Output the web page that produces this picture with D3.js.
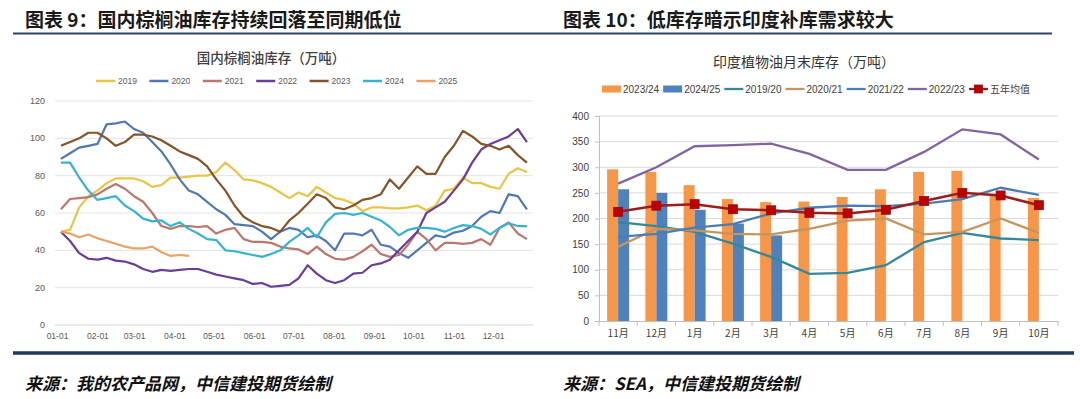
<!DOCTYPE html>
<html>
<head>
<meta charset="utf-8">
<script src="https://cdn.jsdelivr.net/npm/d3@7"></script>
<style>
  body { margin: 0; background: #fff; }
  svg { display: block; font-family: "Liberation Sans", Arial, sans-serif; }
</style>
</head>
<body>
<div id="section"></div>
<script>
// ---- LEFT CHART DATA (weekly, 万吨) ----
const years = ["2019", "2020", "2021", "2022", "2023", "2024", "2025"];
const monthTicks = ["01-01","02-01","03-01","04-01","05-01","06-01","07-01","08-01","09-01","10-01","11-01","12-01"];
const stock2019 = [50,51,63,69,72,76,78.5,78.5,78.5,77,74,75,79,79,79.5,80,80,82,87,83,78,77.5,76,74,71,68,71,69,74,71,68,67,65,61,63,63,62.5,62.5,63,64,61.5,64,72,73,79,76,76,74,73,81,84,82];
const stock2020 = [89,92,95,96,97,107.5,108,109,105,103,98,93,86,78,72,70,66,62,59,54,53.5,53,50,46,50,52,51,47,48,45,40,49,49,48,51,43,42,38.5,36,40,44,48,47,49.5,50.5,53,58,61,60,70,69,62];
const stock2021 = [62,67.5,68,68.5,70,73,75.5,73,69,66,60,53,51.5,53,53,52.5,53,49,51,52,46,44.5,44.5,44,42,41,40.5,38,42,38,35.5,35,36.5,39.5,43,38,36.5,37.5,43,50,46,40,44,44,43.5,44,46,43,52,55,49,46];
const stock2022 = [50,45,38.5,35.5,35,36,34.5,34,32.5,30,28.5,29.5,29,29.5,30,30,28.5,27,26,25,24,22,22.5,20.5,21,21.5,25,32,27.5,24,22.5,24,27.5,28,32,33,35,40,45,50,60,63,66,72,78,87,94,97,99,101,105,98];
const stock2023 = [96,98,100,103,103,100,96,98,102,102,101,99,96,93,91,89,85,78,72,64,58,55,53,52,50,56,60,65,70,68,63,62,64,67,68,70,78,73,79,85,81,81,90,96,104,101,97,96,94,96,91,87];
const stock2024 = [87,87,79,72,67,68,69,64,61,57,55.5,56,53,55,51.5,49,46,45.5,40,39.5,38.5,37.5,36.5,38,40,44.5,48,52,47,55,59.5,60,59,60,58,56,52.5,48,51,52,52,51.5,50,52,53.5,53,51.5,48.5,52,54.5,53,53];
const stock2025 = [50,49,47,48.5,46.5,45,43.5,42,41,41,42,39,37,37.5,37];
const leftSeries = [stock2019, stock2020, stock2021, stock2022, stock2023, stock2024, stock2025];
const leftColors = ["#E9C544", "#4F78B4", "#BD766D", "#6A3D98", "#855428", "#35B4D2", "#E9A266"];

// ---- RIGHT CHART DATA (印度植物油月末库存, 万吨) ----
const months = ["11月","12月","1月","2月","3月","4月","5月","6月","7月","8月","9月","10月"];
const bars2324 = [296,291,265,238,232,233,242,257,291,293,248,240];
const bars2425 = [257,250,217,190,167];
const line1920 = [193,185,174,151,125,92,94,109,154,172,161,158];
const line2021 = [145,180,177,170,169,180,196,200,169,174,200,172];
const line2122 = [164,170,182,189,210,221,225,224,229,238,260,246];
const line2223 = [268,300,341,343,346,326,295,295,330,374,364,315];
const avg5yr = [213,225,228,218,216,211,210,217,234,250,245,226];

const svg = d3.select("#section").append("svg")
  .attr("width", 1080).attr("height", 399);

const CN = "'Noto Sans CJK SC', sans-serif";

// HEADERS
svg.append("text").attr("x", 25).attr("y", 27)
  .style("font-family", CN).style("font-weight", 700).style("font-size", "19px").attr("fill", "#1a1a1a")
  .text("图表 9：国内棕榈油库存持续回落至同期低位");
svg.append("text").attr("x", 563).attr("y", 27)
  .style("font-family", CN).style("font-weight", 700).style("font-size", "19px").attr("fill", "#1a1a1a")
  .text("图表 10：低库存暗示印度补库需求较大");
svg.append("line").attr("x1", 13).attr("x2", 1052).attr("y1", 33.5).attr("y2", 33.5)
  .attr("stroke", "#2C4766").attr("stroke-width", 2);
svg.append("line").attr("x1", 13).attr("x2", 1074).attr("y1", 353).attr("y2", 353)
  .attr("stroke", "#1F3A5A").attr("stroke-width", 3.5);

// FOOTERS
svg.append("text").attr("x", 25).attr("y", 390)
  .style("font-family", CN).style("font-size", "17px").style("font-style", "italic").style("font-weight", 700)
  .attr("fill", "#111").text("来源：我的农产品网，中信建投期货绘制");
svg.append("text").attr("x", 563).attr("y", 390)
  .style("font-family", CN).style("font-size", "17px").style("font-style", "italic").style("font-weight", 700)
  .attr("fill", "#111").text("来源：SEA，中信建投期货绘制");

// ================= LEFT CHART =================
const L = { left: 55, right: 533, top: 101, bottom: 325 };

svg.append("text").attr("x", 271).attr("y", 63).attr("text-anchor", "middle")
  .style("font-family", CN).style("font-size", "13.5px").style("font-weight", 500).attr("fill", "#404040")
  .text("国内棕榈油库存（万吨）");

// legend
const lLeg = svg.append("g");
years.forEach((y, i) => {
  const gx = 96 + i * 53.4;
  lLeg.append("line").attr("x1", gx).attr("x2", gx + 19).attr("y1", 81).attr("y2", 81)
    .attr("stroke", leftColors[i]).attr("stroke-width", 2.5);
  lLeg.append("text").attr("x", gx + 22).attr("y", 81).attr("dy", "0.35em")
    .style("font-size", "8.5px").attr("fill", "#595959").text(y);
});

const parseMD = d3.timeParse("%Y-%m-%d");
const xL = d3.scaleTime()
  .domain([parseMD("2019-01-01"), parseMD("2019-12-01")])
  .range([57, 493]);
const yL = d3.scaleLinear().domain([0, 120]).range([L.bottom, L.top]);

// gridlines
svg.append("g").selectAll("line").data(d3.range(20, 121, 20)).join("line")
  .attr("x1", L.left).attr("x2", L.right)
  .attr("y1", d => yL(d)).attr("y2", d => yL(d))
  .attr("stroke", "#E3E3E3").attr("stroke-width", 1);

// y labels
svg.append("g").selectAll("text").data(d3.range(0, 121, 20)).join("text")
  .attr("x", 45).attr("y", d => yL(d)).attr("dy", "0.35em").attr("text-anchor", "end")
  .style("font-size", "9px").attr("fill", "#595959").text(d => d);

// x axis
const tickDates = monthTicks.map(t => parseMD("2019-" + t));
const xAxisL = svg.append("g").attr("transform", `translate(0, ${L.bottom})`)
  .call(d3.axisBottom(xL).tickValues(tickDates).tickFormat(d3.timeFormat("%m-%d")).tickSize(0).tickPadding(8));
xAxisL.select(".domain").attr("stroke", "#D4D4D4").attr("d", `M${L.left},0H${L.right}`);
xAxisL.selectAll("text").style("font-size", "8.5px").attr("fill", "#595959")
  .style("font-family", "'Liberation Sans', Arial, sans-serif");

// weekly dates
const week0 = parseMD("2019-01-04");
const lineL = d3.line()
  .x((d, i) => xL(d3.timeDay.offset(week0, i * 7)))
  .y(d => yL(d));

leftSeries.forEach((s, i) => {
  svg.append("path").datum(s)
    .attr("fill", "none").attr("stroke", leftColors[i])
    .attr("stroke-width", 2.2).attr("stroke-linejoin", "round")
    .attr("d", lineL);
});

// ================= RIGHT CHART =================
const R = { left: 599, right: 1058, top: 116, bottom: 321 };

svg.append("text").attr("x", 804).attr("y", 62).attr("dy", "0.35em").attr("text-anchor", "middle")
  .style("font-family", CN).style("font-size", "14px").attr("fill", "#333")
  .text("印度植物油月末库存（万吨）");

const xR = d3.scaleBand().domain(months).range([R.left, R.right]).padding(0);
const yR = d3.scaleLinear().domain([0, 400]).range([R.bottom, R.top]);
const xSub = d3.scaleBand().domain(["2023/24", "2024/25"]).range([-11, 11]);

// gridlines
svg.append("g").selectAll("line").data(d3.range(50, 401, 50)).join("line")
  .attr("x1", R.left).attr("x2", R.right)
  .attr("y1", d => yR(d)).attr("y2", d => yR(d))
  .attr("stroke", "#D9D9D9").attr("stroke-width", 1);

// y axis
const yAxisR = svg.append("g").attr("transform", `translate(${R.left}, 0)`)
  .call(d3.axisLeft(yR).tickValues(d3.range(0, 401, 50)).tickSize(4).tickPadding(6));
yAxisR.select(".domain").attr("stroke", "#BFBFBF");
yAxisR.selectAll(".tick line").attr("stroke", "#BFBFBF");
yAxisR.selectAll("text").style("font-size", "10px").attr("fill", "#404040")
  .style("font-family", "'Liberation Sans', Arial, sans-serif");

// bars
const barColor = { "2023/24": "#F79646", "2024/25": "#4F81BD" };
[["2023/24", bars2324], ["2024/25", bars2425]].forEach(([name, vals]) => {
  svg.append("g").selectAll("rect").data(vals).join("rect")
    .attr("x", (d, i) => xR(months[i]) + xR.bandwidth() / 2 + xSub(name))
    .attr("width", xSub.bandwidth())
    .attr("y", d => yR(d))
    .attr("height", d => yR(0) - yR(d))
    .attr("fill", barColor[name]);
});

// x axis
const xAxisR = svg.append("g").attr("transform", `translate(0, ${R.bottom})`)
  .call(d3.axisBottom(xR).tickSize(0).tickPadding(9));
xAxisR.select(".domain").attr("stroke", "#BFBFBF");
xAxisR.selectAll("text").style("font-size", "10px").attr("fill", "#404040")
  .style("font-family", CN);
svg.append("g").selectAll("line").data(months.concat(["end"])).join("line")
  .attr("x1", (d, i) => R.left + i * xR.bandwidth())
  .attr("x2", (d, i) => R.left + i * xR.bandwidth())
  .attr("y1", R.bottom).attr("y2", R.bottom + 5)
  .attr("stroke", "#BFBFBF");

// lines
const lineR = d3.line()
  .x((d, i) => xR(months[i]) + xR.bandwidth() / 2)
  .y(d => yR(d));

const rightLines = [
  { name: "2019/20", vals: line1920, color: "#35879A" },
  { name: "2020/21", vals: line2021, color: "#C8945E" },
  { name: "2021/22", vals: line2122, color: "#4A7DB3" },
  { name: "2022/23", vals: line2223, color: "#8065A0" }
];
rightLines.forEach(l => {
  svg.append("path").datum(l.vals)
    .attr("fill", "none").attr("stroke", l.color).attr("stroke-width", 2.3)
    .attr("d", lineR);
});

svg.append("path").datum(avg5yr)
  .attr("fill", "none").attr("stroke", "#9E1C1C").attr("stroke-width", 2.5)
  .attr("d", lineR);
svg.append("g").selectAll("rect").data(avg5yr).join("rect")
  .attr("x", (d, i) => xR(months[i]) + xR.bandwidth() / 2 - 4.5)
  .attr("y", d => yR(d) - 4.5)
  .attr("width", 9).attr("height", 9)
  .attr("fill", "#C00000").attr("stroke", "#8E1010").attr("stroke-width", 0.8);

// right legend
const rLeg = svg.append("g");
let lx = 602;
const legY = 89;
const legItems = [
  { name: "2023/24", type: "bar", color: "#F79646" },
  { name: "2024/25", type: "bar", color: "#4F81BD" },
  ...rightLines.map(l => ({ name: l.name, type: "line", color: l.color })),
  { name: "五年均值", type: "marker", color: "#9E1C1C" }
];
legItems.forEach(it => {
  if (it.type === "bar") {
    rLeg.append("rect").attr("x", lx).attr("y", legY - 3.5).attr("width", 19).attr("height", 7).attr("fill", it.color);
  } else {
    rLeg.append("line").attr("x1", lx).attr("x2", lx + 19).attr("y1", legY).attr("y2", legY)
      .attr("stroke", it.color).attr("stroke-width", 2.3);
    if (it.type === "marker") {
      rLeg.append("rect").attr("x", lx + 5.5).attr("y", legY - 4).attr("width", 8).attr("height", 8)
        .attr("fill", "#C00000").attr("stroke", "#8E1010").attr("stroke-width", 0.8);
    }
  }
  const t = rLeg.append("text").attr("x", lx + 21).attr("y", legY).attr("dy", "0.35em")
    .style("font-size", "10px").attr("fill", "#404040")
    .style("font-family", it.type === "marker" ? CN : "'Liberation Sans', Arial, sans-serif")
    .text(it.name);
  lx += 21 + t.node().getComputedTextLength() + 4;
});
</script>
</body>
</html>
